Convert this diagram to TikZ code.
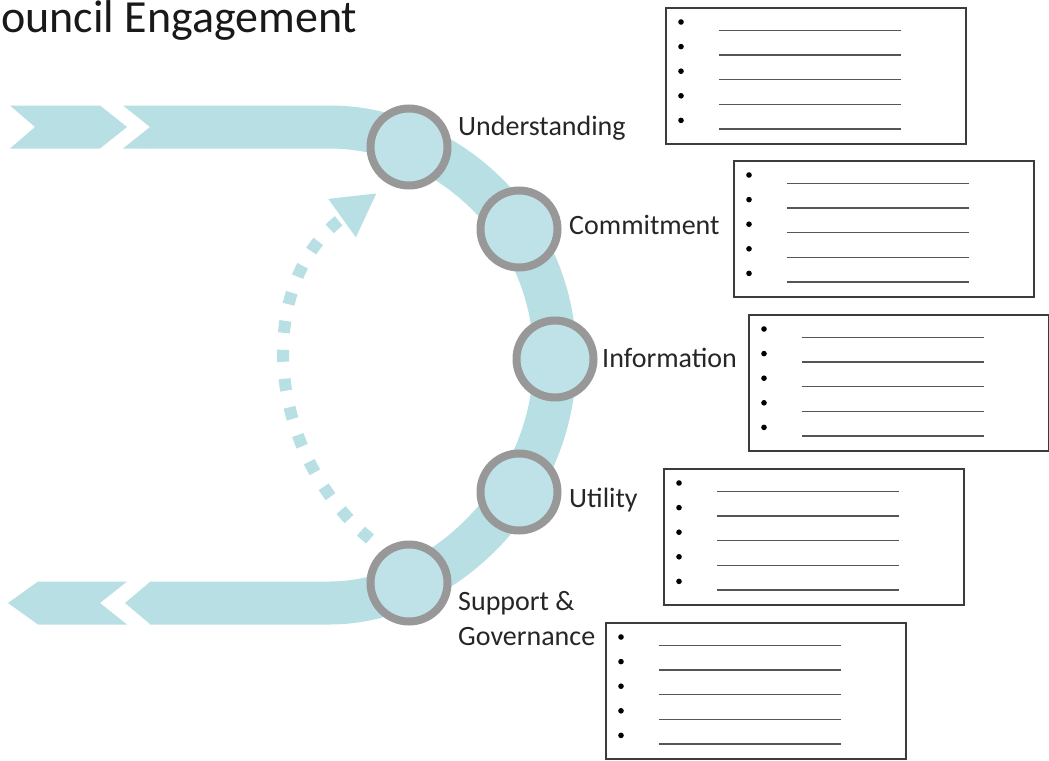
\documentclass[tikz,border=0pt]{standalone}
\usepackage{fontspec}
\setmainfont{Carlito}
\usetikzlibrary{arrows.meta,calc}
\definecolor{flowblue}{RGB}{183,223,228}
\definecolor{ringfill}{RGB}{190,226,231}
\definecolor{ringgray}{RGB}{152,152,152}
\definecolor{boxedge}{RGB}{60,60,60}
\definecolor{rulegray}{RGB}{85,85,85}
\tikzset{
  stage/.style={circle,draw=ringgray,fill=ringfill,line width=8pt,minimum size=77pt,inner sep=0pt},
  lbl/.style={anchor=base west,inner sep=0pt,font=\fontsize{28}{35}\selectfont,text=black!85,align=left},
  listbox/.style={draw=boxedge,line width=1.6pt,minimum width=300pt,minimum height=136pt,anchor=north west,inner sep=0pt},
  listrule/.style={rulegray,line width=1.5pt}
}
\begin{document}
\begin{tikzpicture}[x=1pt,y=-1pt]
  \useasboundingbox (0,0) rectangle (1049,760);
  % title
  \node[anchor=base west,inner sep=0pt,font=\fontsize{46}{54}\selectfont,text=black!90] (title) at (1,33) {ouncil Engagement};
  % flow band
  \draw[flowblue,line width=43pt] (150,127) -- (330,127) .. controls (440,127) and (555,220) .. (555,359)
    .. controls (555,495) and (440,603) .. (330,603) -- (150,603);
  \fill[flowblue] (123,105.5) -- (150.5,105.5) -- (150.5,148.5) -- (123,148.5) -- (150,127) -- cycle;
  \fill[flowblue] (10,105.5) -- (100,105.5) -- (127,127) -- (100,148.5) -- (10,148.5) -- (35,127) -- cycle;
  \fill[flowblue] (150.5,581.5) -- (125,603) -- (150.5,624.5) -- cycle;
  \fill[flowblue] (8,603) -- (38,581.5) -- (127,581.5) -- (100,603) -- (127,624.5) -- (38,624.5) -- cycle;
  % feedback loop
  \coordinate (backfrom) at (370,539);
  \coordinate (backto) at (377,193);
  \draw[flowblue,line width=12pt,dash pattern=on 12pt off 17pt,-{Triangle[length=43pt,width=44pt]}]
    (backfrom) .. controls (262,448) and (256,280) .. (backto);
  % stages
  \node[stage] (und) at (409,147) {};
  \node[stage] (com) at (519,229) {};
  \node[stage] (inf) at (555,359) {};
  \node[stage] (uti) at (519,492) {};
  \node[stage] (sup) at (409,583) {};
  \node[lbl] (undlbl) at (458,135) {Understanding};
  \node[lbl] (comlbl) at (569,234) {Commitment};
  \node[lbl] (inflbl) at (602,367) {Information};
  \node[lbl] (utilbl) at (569,507) {Utility};
  \node[lbl] (suplbl) at (458,645) {Support \&\\Governance};
  % lists
  \node[listbox] (undbox) at (665,7) {};
  \node[listbox] (combox) at (733,160) {};
  \node[listbox] (infbox) at (748,314) {};
  \node[listbox] (utibox) at (663,468) {};
  \node[listbox] (supbox) at (605,622) {};
  \foreach \b in {undbox,combox,infbox,utibox,supbox} {
    \foreach \i in {0,...,4} {
      \fill ($(\b.north west)+(16,15+24.6*\i)$) circle (2.8pt);
      \draw[listrule] ($(\b.north west)+(54,23.5+24.6*\i)$) -- +(182,0);
    }
  }
\end{tikzpicture}
\end{document}
